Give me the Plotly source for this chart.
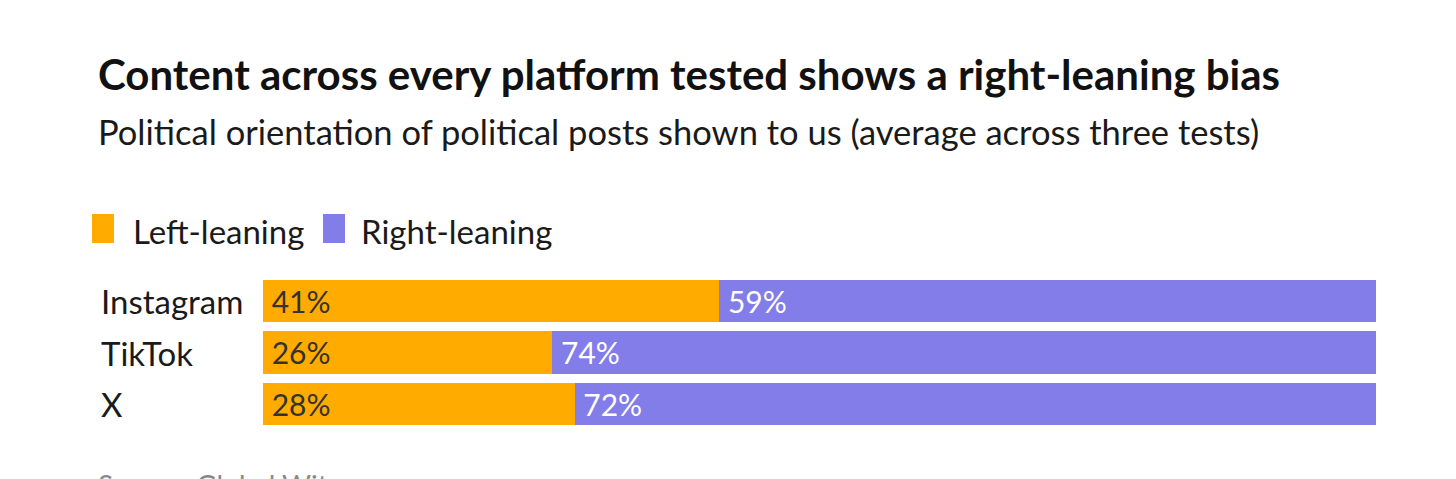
import plotly.graph_objects as go

# data
platforms = ["Instagram", "TikTok", "X"]
left_share = [41, 26, 28]
right_share = [59, 74, 72]

series_names = ["Left-leaning", "Right-leaning"]
LEFT_COLOR = "#FFAB00"
RIGHT_COLOR = "#827DE8"
FONT = "Source Sans Pro, Lato, Noto Sans, sans-serif"

title = "Content across every platform tested shows a right-leaning bias"
subtitle = "Political orientation of political posts shown to us (average across three tests)"
source = "Source: Global Witness"

W, H = 1456, 479
OFF = 8  # the page body adds an 8px margin around the figure
ml, mr, mt, mb = 263 - OFF, 80 + OFF, 275 - OFF, 49 + OFF
pw, ph = W - ml - mr, H - mt - mb


def px_x(v):
    # screen pixel -> paper x
    return (v - OFF - ml) / pw


def px_y(v):
    # screen pixel -> paper y
    return (H - mb - (v - OFF)) / ph


fig = go.Figure()
fig.add_trace(go.Bar(
    y=platforms, x=left_share, orientation="h", name=series_names[0],
    marker=dict(color=LEFT_COLOR, line=dict(width=0)),
    text=[f"\u2009\u200a{v}%" for v in left_share], textposition="inside",
    insidetextanchor="start", textfont=dict(color="#333333", size=33, family=FONT),
    hoverinfo="skip",
))
fig.add_trace(go.Bar(
    y=platforms, x=right_share, orientation="h", name=series_names[1],
    marker=dict(color=RIGHT_COLOR, line=dict(width=0)),
    text=[f"\u2009\u200a{v}%" for v in right_share], textposition="inside",
    insidetextanchor="start", textfont=dict(color="#FFFFFF", size=33, family=FONT),
    hoverinfo="skip",
))

# category labels, left aligned like the original
for p in platforms:
    fig.add_annotation(x=px_x(99), xref="paper", y=p, yref="y", text=p,
                       xanchor="left", yanchor="middle", showarrow=False,
                       font=dict(size=33, color="#1a1a1a", family=FONT))

# title block
fig.add_annotation(x=px_x(96), xref="paper", y=px_y(74), yref="paper",
                   text=f"<b>{title}</b>", showarrow=False,
                   xanchor="left", yanchor="middle",
                   font=dict(size=42, color="#111111", family=FONT))
fig.add_annotation(x=px_x(96), xref="paper", y=px_y(131), yref="paper",
                   text=subtitle, showarrow=False,
                   xanchor="left", yanchor="middle",
                   font=dict(size=34.5, color="#1a1a1a", family=FONT))

# legend drawn by hand: square swatch + label
legend_swatch_x = [92, 323]
legend_text_x = [131, 359]
for name, col, sx, tx in zip(series_names, [LEFT_COLOR, RIGHT_COLOR],
                             legend_swatch_x, legend_text_x):
    fig.add_shape(type="rect", xref="paper", yref="paper",
                  x0=px_x(sx), x1=px_x(sx + 22), y0=px_y(243), y1=px_y(214),
                  fillcolor=col, line=dict(width=0))
    fig.add_annotation(x=px_x(tx), xref="paper", y=px_y(231), yref="paper",
                       text=name, showarrow=False, xanchor="left", yanchor="middle",
                       font=dict(size=33, color="#1a1a1a", family=FONT))

# source line, mostly below the visible window as in the original
fig.add_annotation(x=px_x(96), xref="paper", y=px_y(485), yref="paper",
                   text=source, showarrow=False, xanchor="left", yanchor="middle",
                   font=dict(size=28, color="#888888", family=FONT))

fig.update_layout(
    width=W, height=H,
    margin=dict(l=ml, r=mr, t=mt, b=mb),
    barmode="stack", bargap=0.18,
    showlegend=False,
    plot_bgcolor="white", paper_bgcolor="white",
    xaxis=dict(range=[0, 100], visible=False, fixedrange=True),
    yaxis=dict(categoryorder="array", categoryarray=platforms[::-1],
               showticklabels=False, showgrid=False, zeroline=False, fixedrange=True),
    uniformtext=dict(mode="show", minsize=10),
)

fig.write_html("out.html", config={"displayModeBar": False})
